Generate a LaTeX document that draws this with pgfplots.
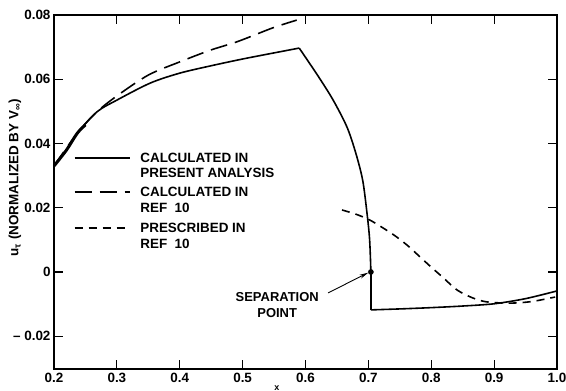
\documentclass[border=0pt]{standalone}
\usepackage{fontspec}
\setmainfont{Liberation Sans}
\usepackage{pgfplots}
\pgfplotsset{compat=1.18}
\usetikzlibrary{arrows.meta}
\begin{document}
\begin{tikzpicture}
\begin{axis}[
  scale only axis, width=503bp, height=354bp,
  xmin=0.2, xmax=1.0, ymin=-0.0302, ymax=0.08,
  scaled x ticks=false, scaled y ticks=false,
  xtick={0.2,0.3,0.4,0.5,0.6,0.7,0.8,0.9,1.0},
  xticklabels={0.2,0.3,0.4,0.5,0.6,0.7,0.8,0.9,1.0},
  ytick={-0.02,0,0.02,0.04,0.06,0.08},
  yticklabels={{– 0.02},0,0.02,0.04,0.06,0.08},
  tick pos=both, tick align=inside,
  major tick length=9bp,
  every tick/.style={black, line width=1.1pt},
  axis line style={line width=1.3pt},
  ticklabel style={font=\bfseries\fontsize{13.5}{14}\selectfont},
  xticklabel style={yshift=-1bp},
  xlabel={x}, xlabel style={at={(rel axis cs:0.443,0)}, anchor=center, yshift=-19bp, font=\bfseries\fontsize{9}{9}\selectfont},
  ylabel={u\textsubscript{τ} (NORMALIZED BY V\textsubscript{∞})},
  ylabel style={at={(rel axis cs:0,0.54)}, anchor=center, yshift=39bp, font=\bfseries\fontsize{13.5}{14}\selectfont},
  clip=false,
]
% calculated in present analysis (one series, drawn in three pieces)
\addplot[black, line width=1.6pt, smooth, tension=0.5] coordinates {
(0.2,0.033) (0.22,0.038) (0.237,0.0432) (0.268,0.0498) (0.3,0.0535) (0.353,0.0588)
(0.4,0.0619) (0.45,0.0642) (0.5,0.0663) (0.55,0.0682) (0.590,0.0697)};
\addplot[black, line width=1.6pt, smooth, tension=0.5] coordinates {
(0.590,0.0697) (0.62,0.061) (0.644,0.0535) (0.666,0.0451) (0.68,0.037) (0.691,0.0285)
(0.698,0.018) (0.702,0.010) (0.704,0)};
\addplot[black, line width=1.6pt, smooth, tension=0.5] coordinates {
(0.704,-0.0118) (0.75,-0.0115) (0.8,-0.0111) (0.85,-0.0106) (0.9,-0.0099)
(0.95,-0.0083) (1.0,-0.0059)};
\addplot[black, line width=1.6pt] coordinates {(0.704,0) (0.704,-0.0118)};
\addplot[black, line width=3pt, smooth] coordinates {(0.2,0.033) (0.22,0.038) (0.237,0.0432) (0.25,0.0458)};
% calculated in ref 10
\addplot[black, line width=1.6pt, smooth, tension=0.5, dash pattern=on 17bp off 8bp] coordinates {
(0.2,0.033) (0.237,0.0432) (0.268,0.0498) (0.3,0.0548) (0.35,0.0613) (0.4,0.0654)
(0.448,0.069) (0.493,0.0718) (0.548,0.0760) (0.586,0.0784)};
% prescribed in ref 10
\addplot[black, line width=1.6pt, smooth, tension=0.5, dash pattern=on 8bp off 6bp] coordinates {
(0.658,0.0193) (0.68,0.018) (0.702,0.0162) (0.725,0.0135) (0.745,0.0109) (0.765,0.0078)
(0.782,0.0047) (0.80,0.0015) (0.818,-0.0016) (0.841,-0.0056) (0.865,-0.008) (0.888,-0.0093)
(0.925,-0.0097) (0.96,-0.0092) (0.997,-0.0078)};
% separation point
\addplot[only marks, mark=*, mark size=2.6bp, black] coordinates {(0.704,0)};
% legend
\draw[black, line width=1.6pt] (axis cs:0.233,0.0355) -- (axis cs:0.321,0.0355);
\draw[black, line width=1.6pt, dash pattern=on 17bp off 8bp] (axis cs:0.233,0.0249) -- (axis cs:0.321,0.0249);
\draw[black, line width=1.6pt, dash pattern=on 8bp off 6bp] (axis cs:0.233,0.0137) -- (axis cs:0.321,0.0137);
\begin{scope}[every node/.style={anchor=west, inner sep=0pt, font=\bfseries\fontsize{13.5}{14}\selectfont}]
\node at (axis cs:0.337,0.0355) {CALCULATED IN};
\node at (axis cs:0.337,0.0308) {PRESENT ANALYSIS};
\node at (axis cs:0.337,0.0249) {CALCULATED IN};
\node at (axis cs:0.337,0.0199) {REF~~10};
\node at (axis cs:0.337,0.0137) {PRESCRIBED IN};
\node at (axis cs:0.337,0.0087) {REF~~10};
\end{scope}
\begin{scope}[every node/.style={anchor=center, inner sep=0pt, font=\bfseries\fontsize{13}{14}\selectfont}]
\node at (axis cs:0.555,-0.0078) {SEPARATION};
\node at (axis cs:0.555,-0.0128) {POINT};
\end{scope}
\draw[black, line width=0.9pt, -{Stealth[length=9bp,width=4bp]}] (axis cs:0.636,-0.0065) -- (axis cs:0.700,-0.0002);
\end{axis}
\pgfresetboundingbox
\path (current axis.south west) ++(-54bp,-22bp) coordinate (bbsw);
\path (current axis.north east) ++(9bp,15bp) coordinate (bbne);
\useasboundingbox (bbsw) rectangle (bbne);
\end{tikzpicture}
\end{document}
